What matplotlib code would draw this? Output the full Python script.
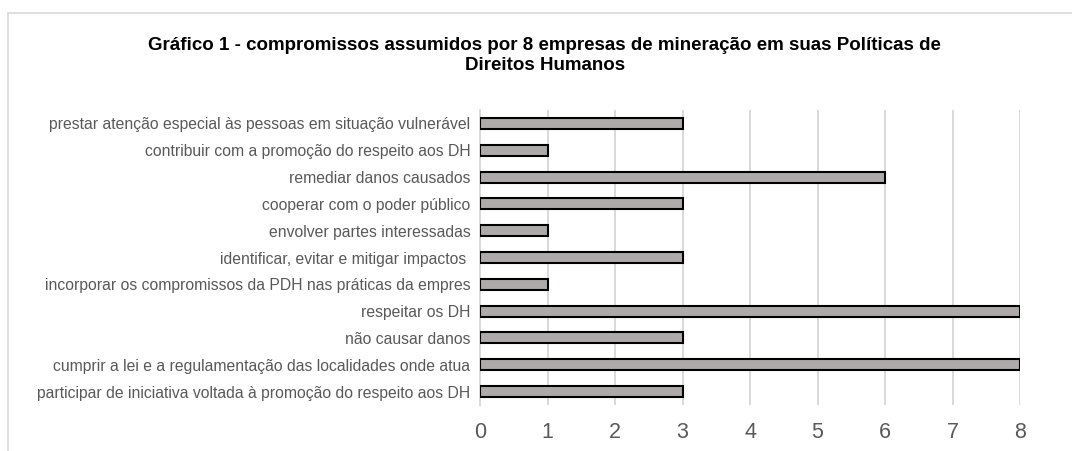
import matplotlib
matplotlib.use("Agg")
import matplotlib.pyplot as plt
from matplotlib.lines import Line2D

plt.rcParams['font.family'] = ['Liberation Sans', 'DejaVu Sans']

# Commitments, listed bottom to top
categories = [
    "participar de iniciativa voltada à promoção do respeito aos DH",
    "cumprir a lei e a regulamentação das localidades onde atua",
    "não causar danos",
    "respeitar os DH",
    "incorporar os compromissos da PDH nas práticas da empres",
    "identificar, evitar e mitigar impactos ",
    "envolver partes interessadas",
    "cooperar com o poder público",
    "remediar danos causados",
    "contribuir com a promoção do respeito aos DH",
    "prestar atenção especial às pessoas em situação vulnerável",
]
values = [3, 8, 3, 8, 1, 3, 1, 3, 6, 1, 3]
xticks = [0, 1, 2, 3, 4, 5, 6, 7, 8]

title = ("Gráfico 1 - compromissos assumidos por 8 empresas de mineração em suas Políticas de\n"
         "Direitos Humanos")

fig = plt.figure(figsize=(10.72, 4.51), dpi=100)
ax = fig.add_axes([0.4478, 0.102, 0.5037, 0.654])

ypos = list(range(len(categories)))
ax.barh(ypos, values, height=0.41, color="#aeaaaa", edgecolor="black",
        linewidth=1.5, zorder=3)

ax.set_xlim(0, 8)
ax.set_ylim(-0.5, len(categories) - 0.5)
ax.set_xticks(xticks)
ax.set_xticklabels([str(t) for t in xticks], fontsize=15.5, color="#595959")
ax.set_yticks(ypos)
ax.set_yticklabels(categories, fontsize=11.3, color="#595959")
ax.tick_params(axis="both", length=0)
ax.tick_params(axis="x", pad=12)
ax.tick_params(axis="y", pad=7)

ax.grid(axis="x", color="#d9d9d9", linewidth=1.4, zorder=0)
ax.set_axisbelow(True)
for side in ["top", "right", "bottom"]:
    ax.spines[side].set_visible(False)
ax.spines["left"].set_color("#d9d9d9")
ax.spines["left"].set_linewidth(1.4)

fig.text(0.508, 1 - 37 / 451, title, ha="center", va="top", fontsize=13.5,
         fontweight="bold", color="black", linespacing=1.25)

# Chart-area frame (top and left edges)
fig.add_artist(Line2D([8 / 1072, 8 / 1072], [0, 1 - 13 / 451],
                      transform=fig.transFigure, color="#d9d9d9", linewidth=1.2))
fig.add_artist(Line2D([8 / 1072, 1], [1 - 13 / 451, 1 - 13 / 451],
                      transform=fig.transFigure, color="#d9d9d9", linewidth=1.2))

fig.savefig("out.png", dpi=100, facecolor="white")
